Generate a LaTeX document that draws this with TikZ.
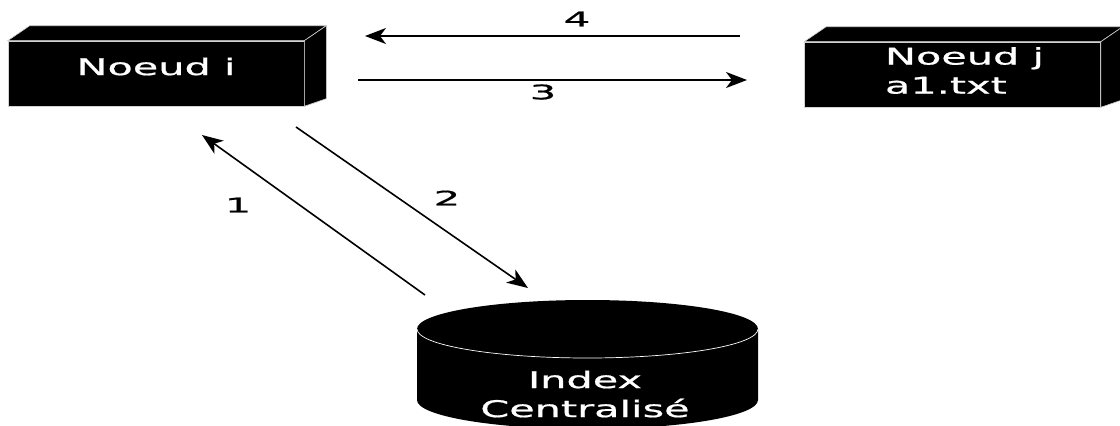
\documentclass[tikz,border=0pt]{standalone}
\usepackage{fontspec}
\newfontfamily\diagfont[FakeStretch=1.8, FakeBold=0.8]{DejaVu Sans}
\newfontfamily\numfont[FakeStretch=2.1, FakeBold=0.8]{DejaVu Sans}
\usetikzlibrary{arrows.meta, positioning}

\tikzset{
  nodebox/.style={fill=black, draw=gray!35, line width=0.6pt,
    minimum width=296pt, minimum height=65pt, inner sep=0pt},
  face/.style={fill=black, draw=gray!35, line width=0.6pt},
  boxtext/.style={text=white, font=\diagfont\fontsize{23pt}{26pt}\selectfont, align=left},
  num/.style={font=\numfont\fontsize{20pt}{22pt}\selectfont}
}
% top and side faces of a block node
\newcommand\blockfaces[1]{%
  \path[face] (#1.north west) -- ++(22pt,15pt)
    -- ([shift={(22pt,15pt)}]#1.north east) -- (#1.north east) -- cycle;
  \path[face] (#1.north east) -- ++(22pt,15pt) -- ++(0pt,-73pt)
    -- (#1.south east) -- cycle;}

\begin{document}
\begin{tikzpicture}
  [x=1pt, y=-1pt, line width=1.6pt,
   >={Stealth[length=21pt, width=16pt, inset=6pt]}]
  \useasboundingbox (0,0) rectangle (1120,426);

  \node[nodebox, label={[boxtext, yshift=7pt]center:Noeud i}] (ni) at (156,73.5) {};
  \node[nodebox, label={[boxtext, xshift=12pt, yshift=4pt]center:Noeud j\\[3pt]a1.txt}] (nj) at (952.5,74.5) {};
  \blockfaces{ni}
  \blockfaces{nj}

  % centralised index drawn as a cylinder
  \fill (417,329) -- (417,400) arc[start angle=180, end angle=0, x radius=170.5, y radius=29]
        -- (758,329) -- cycle;
  \fill (587.5,329) ellipse[x radius=170.5, y radius=29];
  \draw[white, line width=0.7pt] (417,329) arc[start angle=180, end angle=0, x radius=170.5, y radius=29];
  \node[boxtext, align=center] (idx) at (585,394) {Index\\[3pt]Centralisé};

  \coordinate (s1) at (425,295);
  \coordinate (e1) at (202,135);
  \coordinate (s2) at (296,127);
  \coordinate (e2) at (528,288);
  \coordinate (s3) at (358,80);
  \coordinate (e3) at (747,80);
  \coordinate (s4) at (740,36);
  \coordinate (e4) at (365,36);

  \draw[->] (s1) -- (e1);
  \draw[->] (s2) -- (e2);
  \draw[->] (s3) -- (e3);
  \draw[->] (s4) -- (e4);

  \node[num] (n1) at (238,205) {1};
  \node[num] (n2) at (447,198) {2};
  \node[num] (n3) at (543,92) {3};
  \node[num] (n4) at (577,19) {4};
\end{tikzpicture}
\end{document}
